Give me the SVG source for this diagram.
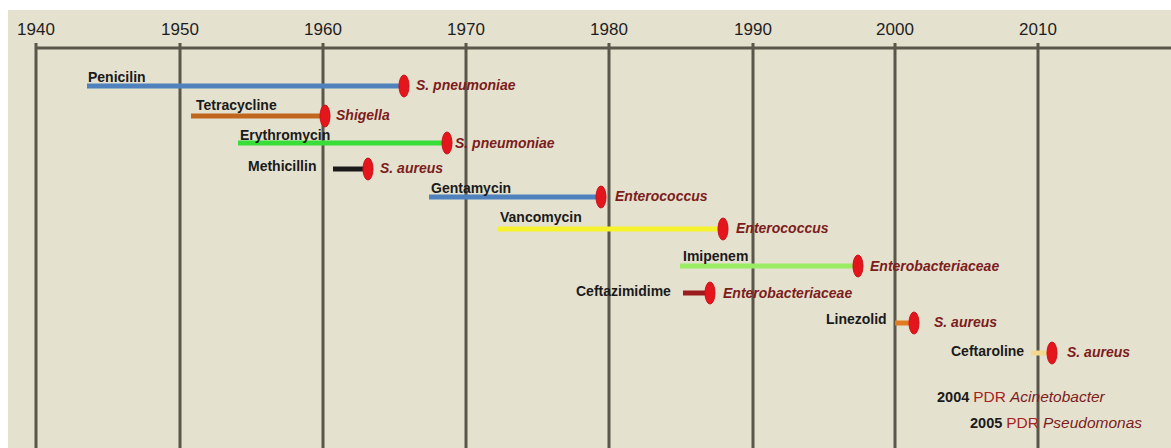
<svg xmlns="http://www.w3.org/2000/svg" width="1171" height="448" viewBox="0 0 1171 448">
<style>
.yr{font-family:"Liberation Sans",Arial,sans-serif;font-size:17px;fill:#1e1e1e;text-anchor:middle}
.drug{font-family:"Liberation Sans",Arial,sans-serif;font-size:14px;font-weight:bold;fill:#1a1a1a}
.bug{font-family:"Liberation Sans",Arial,sans-serif;font-size:14px;font-weight:bold;font-style:italic;fill:#7c1c1c}
.grid{stroke:#5b564a;stroke-width:3}
.bar{stroke-width:5;fill:none}
.mk{fill:#e4151b;stroke:#c8101a;stroke-width:1}
.pdr{font-family:"Liberation Sans",Arial,sans-serif;font-size:15.5px}
</style>
<rect x="0" y="0" width="1171" height="448" fill="#ffffff"/>
<rect x="8" y="10" width="1163" height="438" fill="#e5e1cf"/>
<g id="axis">
<line class="grid" x1="36" y1="48" x2="1171" y2="48"/>
<line class="grid" x1="36" y1="43" x2="36" y2="448"/>
<line class="grid" x1="180" y1="43" x2="180" y2="448"/>
<line class="grid" x1="323" y1="43" x2="323" y2="448"/>
<line class="grid" x1="466" y1="43" x2="466" y2="448"/>
<line class="grid" x1="609" y1="43" x2="609" y2="448"/>
<line class="grid" x1="753" y1="43" x2="753" y2="448"/>
<line class="grid" x1="895" y1="43" x2="895" y2="448"/>
<line class="grid" x1="1038" y1="43" x2="1038" y2="448"/>
<text class="yr" x="36" y="35">1940</text>
<text class="yr" x="180" y="35">1950</text>
<text class="yr" x="323" y="35">1960</text>
<text class="yr" x="466" y="35">1970</text>
<text class="yr" x="609" y="35">1980</text>
<text class="yr" x="753" y="35">1990</text>
<text class="yr" x="895" y="35">2000</text>
<text class="yr" x="1038" y="35">2010</text>
</g>
<g id="connectors">
<line class="bar" x1="87" y1="86" x2="403" y2="86" stroke="#4f81bd"/>
<line class="bar" x1="191" y1="116" x2="324" y2="116" stroke="#c0661e"/>
<line class="bar" x1="238" y1="143" x2="446" y2="143" stroke="#38de38"/>
<line class="bar" x1="333" y1="169" x2="367" y2="169" stroke="#1a1a1a"/>
<line class="bar" x1="429" y1="197" x2="600" y2="197" stroke="#4f81bd"/>
<line class="bar" x1="497" y1="229" x2="722" y2="229" stroke="#f6f22c"/>
<line class="bar" x1="680" y1="266" x2="857" y2="266" stroke="#9aec64"/>
<line class="bar" x1="683" y1="293" x2="709" y2="293" stroke="#9b1c1c"/>
<line class="bar" x1="895" y1="323" x2="913" y2="323" stroke="#e07b22"/>
<line class="bar" x1="1031" y1="353" x2="1051" y2="353" stroke="#f3d98e"/>
</g>
<g id="penicilin">
<text class="drug" x="88" y="82">Penicilin</text>
<ellipse class="mk" cx="404" cy="86" rx="5" ry="11"/>
<text class="bug" x="416" y="90">S. pneumoniae</text>
</g>
<g id="tetracycline">
<text class="drug" x="196" y="110">Tetracycline</text>
<ellipse class="mk" cx="325" cy="116" rx="5" ry="11"/>
<text class="bug" x="336" y="120">Shigella</text>
</g>
<g id="erythromycin">
<text class="drug" x="240" y="140">Erythromycin</text>
<ellipse class="mk" cx="447" cy="143" rx="5" ry="11"/>
<text class="bug" x="455" y="148">S. pneumoniae</text>
</g>
<g id="methicillin">
<text class="drug" x="248" y="171">Methicillin</text>
<ellipse class="mk" cx="368" cy="169" rx="5" ry="11"/>
<text class="bug" x="380" y="173">S. aureus</text>
</g>
<g id="gentamycin">
<text class="drug" x="431" y="193">Gentamycin</text>
<ellipse class="mk" cx="601" cy="197" rx="5" ry="11"/>
<text class="bug" x="615" y="201">Enterococcus</text>
</g>
<g id="vancomycin">
<text class="drug" x="500" y="222">Vancomycin</text>
<ellipse class="mk" cx="723" cy="229" rx="5" ry="11"/>
<text class="bug" x="736" y="233">Enterococcus</text>
</g>
<g id="imipenem">
<text class="drug" x="683" y="261">Imipenem</text>
<ellipse class="mk" cx="858" cy="266" rx="5" ry="11"/>
<text class="bug" x="870" y="271">Enterobacteriaceae</text>
</g>
<g id="ceftazimidime">
<text class="drug" x="576" y="296">Ceftazimidime</text>
<ellipse class="mk" cx="710" cy="293" rx="5" ry="11"/>
<text class="bug" x="723" y="298">Enterobacteriaceae</text>
</g>
<g id="linezolid">
<text class="drug" x="826" y="324">Linezolid</text>
<ellipse class="mk" cx="914" cy="323" rx="5" ry="11"/>
<text class="bug" x="934" y="327">S. aureus</text>
</g>
<g id="ceftaroline">
<text class="drug" x="951" y="356">Ceftaroline</text>
<ellipse class="mk" cx="1052" cy="353" rx="5" ry="11"/>
<text class="bug" x="1067" y="357">S. aureus</text>
</g>
<g id="pdr-2004">
<text class="pdr" x="937" y="402"><tspan font-weight="bold" fill="#1a1a1a" font-size="14.5">2004</tspan><tspan fill="#a82222" dx="4">PDR</tspan><tspan fill="#7c1c1c" font-style="italic" dx="4">Acinetobacter</tspan></text>
</g>
<g id="pdr-2005">
<text class="pdr" x="970" y="428"><tspan font-weight="bold" fill="#1a1a1a" font-size="14.5">2005</tspan><tspan fill="#a82222" dx="4">PDR</tspan><tspan fill="#7c1c1c" font-style="italic" dx="4">Pseudomonas</tspan></text>
</g>
</svg>
